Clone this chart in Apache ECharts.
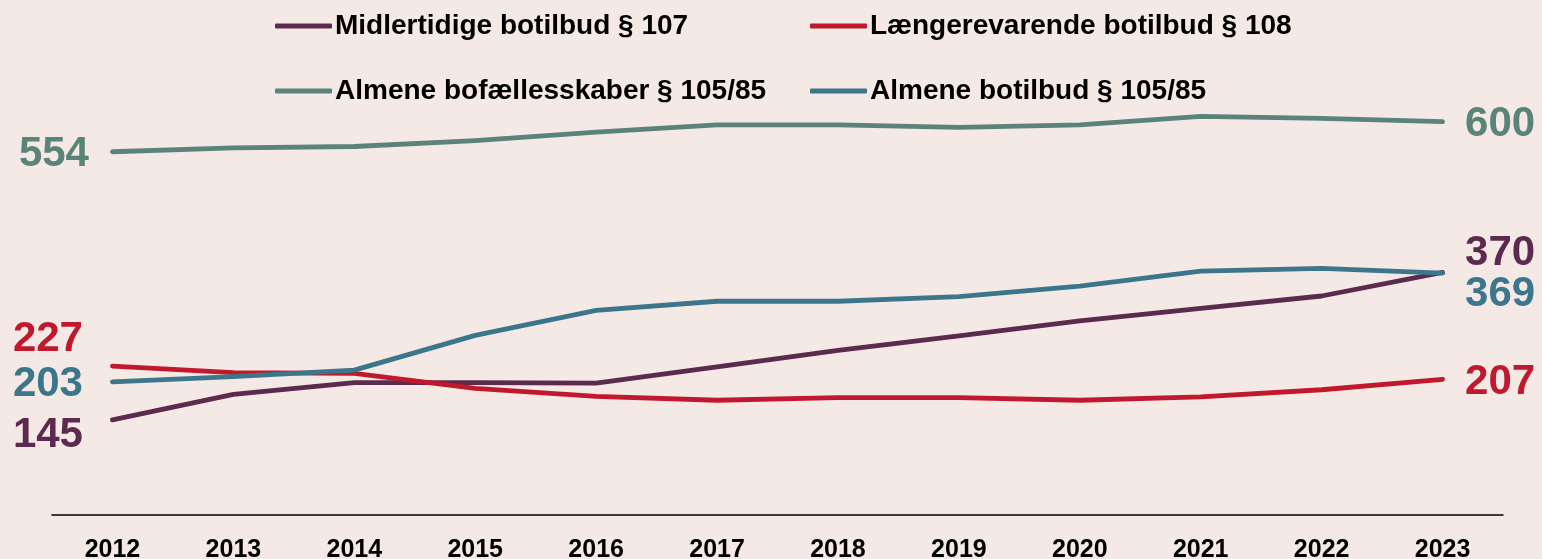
<!DOCTYPE html>
<html>
<head>
<meta charset="utf-8">
<script src="https://cdn.jsdelivr.net/npm/echarts@6/dist/echarts.min.js"></script>
<style>
  html, body { margin: 0; padding: 0; background: #f4e9e4; }
  #chart { width: 1542px; height: 559px; }
</style>
</head>
<body>
<div id="chart"></div>
<script>
var years = ['2012', '2013', '2014', '2015', '2016', '2017', '2018', '2019', '2020', '2021', '2022', '2023'];
var midlertidige = [145, 184, 202, 202, 201, 226, 251, 273, 296, 315, 334, 370]; // § 107
var laengerevarende = [227, 217, 216, 193, 181, 175, 179, 179, 175, 180, 191, 207]; // § 108
var bofaellesskaber = [554, 560, 562, 571, 584, 595, 595, 591, 595, 608, 605, 600]; // § 105/85
var botilbud = [203, 211, 221, 274, 312, 326, 326, 333, 349, 372, 376, 369]; // § 105/85

var seriesNames = ['Midlertidige botilbud § 107', 'Længerevarende botilbud § 108',
    'Almene bofællesskaber § 105/85', 'Almene botilbud § 105/85'];
var colors = ['#5b2a4e', '#c0192e', '#5a8379', '#3b768c'];

var font = '"Liberation Sans", Arial, sans-serif';

/**
 * 给首尾两点加数值标签
 * lbl: [首点距离, 首点偏移, 尾点偏移]
 */
function buildData(values, color, lbl) {
    var last = values.length - 1;
    return values.map(function (v, i) {
        var item = { value: v };
        if (i === 0 || i === last) {
            item.label = {
                show: true,
                position: i === 0 ? 'left' : 'right',
                distance: i === 0 ? lbl[0] : 22,
                offset: [0, i === 0 ? lbl[1] : lbl[2]],
                color: color,
                fontFamily: font,
                fontWeight: 'bold',
                fontSize: 42,
                formatter: '{c}'
            };
        }
        return item;
    });
}

function buildSeries(idx, values, lbl) {
    return {
        type: 'line',
        name: seriesNames[idx],
        color: colors[idx],
        symbol: 'circle',
        symbolSize: 1,
        silent: true,
        lineStyle: { width: 4.8, color: colors[idx], cap: 'round', join: 'round' },
        itemStyle: { color: colors[idx] },
        data: buildData(values, colors[idx], lbl)
    };
}

// 图例，每项单独放置以对齐两列
function legendAt(name, left, top) {
    return {
        data: [name],
        left: left,
        top: top,
        icon: 'roundRect',
        itemWidth: 57,
        itemHeight: 5,
        itemGap: 0,
        padding: 0,
        selectedMode: false,
        textStyle: {
            fontFamily: font,
            fontWeight: 'bold',
            fontSize: 28,
            color: '#000',
            padding: [0, 0, 0, -2]
        }
    };
}

var myChart = echarts.init(document.getElementById('chart'));
var option = {
    backgroundColor: '#f4e9e4',
    animation: false,
    legend: [
        legendAt(seriesNames[0], 275, 12),
        legendAt(seriesNames[1], 810, 12),
        legendAt(seriesNames[2], 275, 77),
        legendAt(seriesNames[3], 810, 77)
    ],
    grid: {
        left: 52,
        right: 39,
        top: 56,
        bottom: 44,
        outerBoundsMode: 'none'
    },
    xAxis: {
        type: 'category',
        data: years,
        boundaryGap: true,
        axisLine: { show: true, lineStyle: { color: '#000', width: 1.5 } },
        axisTick: { show: false },
        axisLabel: {
            margin: 23,
            color: '#000',
            fontFamily: font,
            fontWeight: 'bold',
            fontSize: 25
        }
    },
    yAxis: {
        type: 'value',
        min: 0,
        max: 700,
        show: false,
        splitLine: { show: false }
    },
    series: [
        buildSeries(0, midlertidige, [29, 16, -19]),
        buildSeries(1, laengerevarende, [29, -27, 3]),
        buildSeries(2, bofaellesskaber, [23, 3, 3]),
        buildSeries(3, botilbud, [29, 3, 21])
    ]
};
myChart.setOption(option);
</script>
</body>
</html>
